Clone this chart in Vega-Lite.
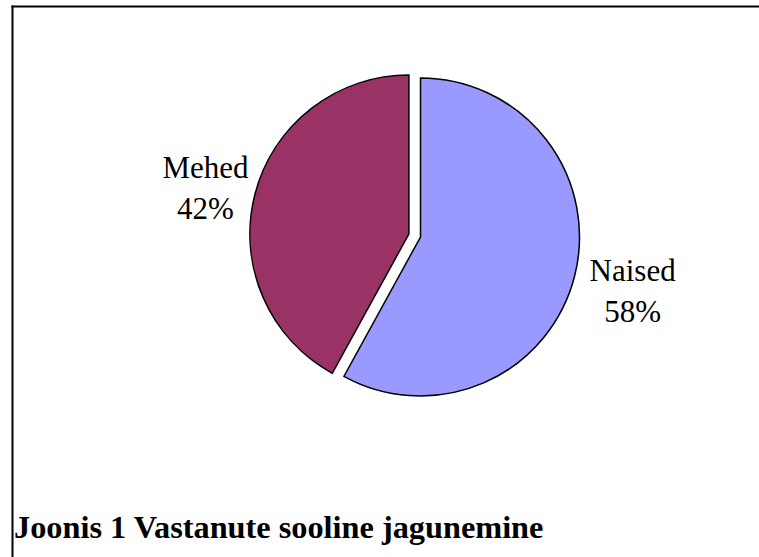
{
  "$schema": "https://vega.github.io/schema/vega-lite/v6.json",
  "width": 747,
  "height": 551,
  "padding": {"left": 12, "top": 6, "right": 0, "bottom": 0},
  "autosize": {"type": "none"},
  "background": "white",
  "config": {
    "view": {"stroke": null},
    "font": "Liberation Serif"
  },
  "title": {
    "text": "Joonis 1 Vastanute sooline jagunemine",
    "orient": "bottom",
    "anchor": "start",
    "baseline": "alphabetic",
    "offset": -19,
    "dx": 2,
    "font": "Liberation Serif",
    "fontSize": 32.3,
    "fontWeight": "bold",
    "color": "black"
  },
  "data": {
    "values": [
      {"category": "Naised", "value": 58, "label": "Naised\n58%"},
      {"category": "Mehed", "value": 42, "label": "Mehed\n42%"}
    ]
  },
  "layer": [
    {
      "mark": {"type": "rule", "opacity": 0},
      "encoding": {
        "x": {"datum": 0, "type": "quantitative", "scale": {"domain": [0, 1]}, "axis": {"orient": "top", "domain": true, "domainColor": "black", "domainWidth": 2, "domainCap": "square", "ticks": false, "labels": false, "grid": false, "title": null}},
        "y": {"datum": 0, "type": "quantitative", "scale": {"domain": [0, 1]}, "axis": {"orient": "left", "domain": true, "domainColor": "black", "domainWidth": 2, "domainCap": "square", "ticks": false, "labels": false, "grid": false, "title": null}}
      }
    },
    {
      "mark": {"type": "arc", "x": 408.5, "y": 231, "radius": 159, "stroke": "black", "strokeWidth": 1.5},
      "encoding": {
        "theta": {"field": "value", "type": "quantitative", "stack": true},
        "order": {"field": "value", "type": "quantitative", "sort": "descending"},
        "color": {"field": "category", "type": "nominal", "scale": {"domain": ["Naised", "Mehed"], "range": ["#9999FF", "#993366"]}, "legend": null},
        "opacity": {"condition": {"test": "datum.category === 'Naised'", "value": 1}, "value": 0}
      }
    },
    {
      "mark": {"type": "arc", "x": 408.5, "y": 231, "xOffset": -11.6, "yOffset": -3, "radius": 159, "stroke": "black", "strokeWidth": 1.5},
      "encoding": {
        "theta": {"field": "value", "type": "quantitative", "stack": true},
        "order": {"field": "value", "type": "quantitative", "sort": "descending"},
        "color": {"field": "category", "type": "nominal", "scale": {"domain": ["Naised", "Mehed"], "range": ["#9999FF", "#993366"]}, "legend": null},
        "opacity": {"condition": {"test": "datum.category === 'Mehed'", "value": 1}, "value": 0}
      }
    },
    {
      "mark": {"type": "text", "x": 408.5, "y": 231, "yOffset": -19, "radius": 219, "font": "Liberation Serif", "fontSize": 31, "lineHeight": 41, "lineBreak": "\n", "align": "center", "baseline": "middle", "color": "black"},
      "encoding": {
        "theta": {"field": "value", "type": "quantitative", "stack": true},
        "order": {"field": "value", "type": "quantitative", "sort": "descending"},
        "text": {"field": "label"},
        "opacity": {"condition": {"test": "datum.category === 'Naised'", "value": 1}, "value": 0}
      }
    },
    {
      "mark": {"type": "text", "x": 408.5, "y": 231, "xOffset": -11.6, "yOffset": -16, "radius": 210, "font": "Liberation Serif", "fontSize": 31, "lineHeight": 41, "lineBreak": "\n", "align": "center", "baseline": "middle", "color": "black"},
      "encoding": {
        "theta": {"field": "value", "type": "quantitative", "stack": true},
        "order": {"field": "value", "type": "quantitative", "sort": "descending"},
        "text": {"field": "label"},
        "opacity": {"condition": {"test": "datum.category === 'Mehed'", "value": 1}, "value": 0}
      }
    }
  ]
}
